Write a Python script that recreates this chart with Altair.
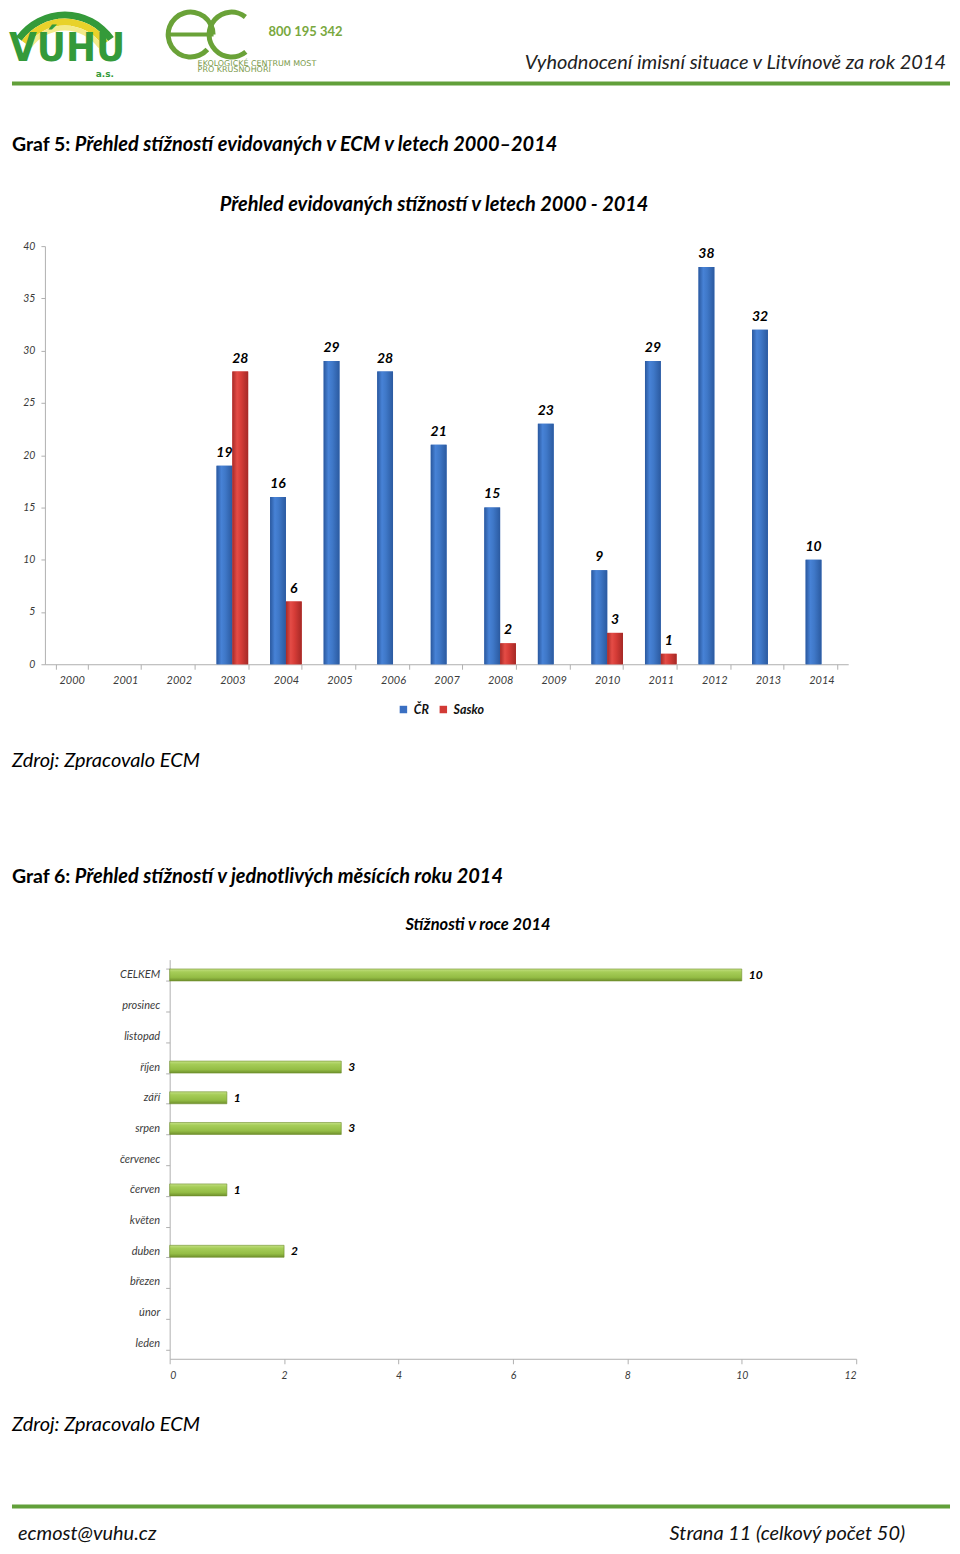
import altair as alt
import pandas as pd

FONT = "Lato"

# ---------------- texts ----------------
header_right = "Vyhodnocení imisní situace v Litvínově za rok 2014"
logo_vuhu = "VÚHU"
logo_vuhu_sub = "a.s."
logo_phone = "800 195 342"
logo_eco1 = "EKOLOGICKÉ CENTRUM MOST"
logo_eco2 = "PRO KRUŠNOHOŘÍ"
graf5_prefix = "Graf 5:"
graf5_text = "Přehled stížností evidovaných v ECM v letech 2000–2014"
chart1_title = "Přehled evidovaných stížností v letech 2000 - 2014"
source_text = "Zdroj: Zpracovalo ECM"
graf6_prefix = "Graf 6:"
graf6_text = "Přehled stížností v jednotlivých měsících roku 2014"
chart2_title = "Stížnosti  v roce 2014"
footer_left = "ecmost@vuhu.cz"
footer_right = "Strana 11 (celkový počet 50)"

# ---------------- chart 1 data ----------------
years = [str(y) for y in range(2000, 2015)]
series_names = ["ČR", "Sasko"]
cr_values = [None, None, None, 19, 16, 29, 28, 21, 15, 23, 9, 29, 38, 32, 10]
sasko_values = [None, None, None, 28, 6, None, None, None, 2, None, 3, 1, None, None, None]
y1_ticks = [0, 5, 10, 15, 20, 25, 30, 35, 40]

# ---------------- chart 2 data ----------------
months = ["CELKEM", "prosinec", "listopad", "říjen", "září", "srpen", "červenec",
          "červen", "květen", "duben", "březen", "únor", "leden"]
month_values = [10, None, None, 3, 1, 3, None, 1, None, 2, None, None, None]
x2_ticks = [0, 2, 4, 6, 8, 10, 12]

# ---------------- colours ----------------
GREEN_LINE = "#62a03a"
LOGO_GREEN = "#349a3a"
EC_GREEN = "#6aa238"
BLUE = "#3a6fc2"
RED = "#d23a36"
AXIS_GREY = "#b0b0b0"
LABEL_GREY = "#3a3a3a"

rows1 = []
for y, v in zip(years, cr_values):
    if v is not None:
        rows1.append({"year": y, "series": series_names[0], "value": v})
for y, v in zip(years, sasko_values):
    if v is not None:
        rows1.append({"year": y, "series": series_names[1], "value": v})
df1 = pd.DataFrame(rows1)

df2 = pd.DataFrame([{"month": m, "value": v} for m, v in zip(months, month_values) if v is not None])

dummy = pd.DataFrame({"d": [0]})
W = 944


def txt(s, x, y, size, weight="normal", style="normal", align="left", color="#000000",
        font=FONT, baseline="alphabetic"):
    return alt.Chart(dummy).mark_text(
        text=s, fontSize=size, fontWeight=weight, fontStyle=style, align=align,
        baseline=baseline, color=color, font=font
    ).encode(x=alt.value(x), y=alt.value(y))


def hline(x1, x2, y, color, width):
    return alt.Chart(dummy).mark_rule(color=color, strokeWidth=width).encode(
        x=alt.value(x1), x2=alt.value(x2), y=alt.value(y))


def arc(cx, cy, r1, r2, t1, t2, color):
    return alt.Chart(dummy).mark_arc(color=color, theta=t1, theta2=t2,
                                     radius=r2, radius2=r1).encode(
        x=alt.value(cx), y=alt.value(cy))


def vgrad(stops):
    return alt.Gradient(gradient="linear", x1=0, x2=0, y1=0, y2=1,
                        stops=[alt.GradientStop(color=c, offset=o) for o, c in stops])


def hgrad(stops):
    return alt.Gradient(gradient="linear", x1=0, x2=1, y1=0, y2=0,
                        stops=[alt.GradientStop(color=c, offset=o) for o, c in stops])


# ================= Row H: header (page y 8..245) =================
rowH = alt.layer(
    arc(57, 62, 53, 60, 5.33, 7.24, LOGO_GREEN),
    arc(57, 62, 46, 53, 5.33, 7.24, "#e8d22a"),
    arc(57, 62, 41, 46, 5.33, 7.24, "#f3ea8a"),
    txt(logo_vuhu, 1, 51, 40, weight="bold", color=LOGO_GREEN, font="DejaVu Sans Condensed"),
    txt(logo_vuhu_sub, 88, 68, 9, weight="bold", color=LOGO_GREEN, font="DejaVu Sans"),
    # "ec" logo drawn as two open rings
    arc(183, 25, 20, 25, 2.3, 7.85, EC_GREEN),
    hline(160, 206, 25, EC_GREEN, 4),
    arc(224, 25, 20, 25, 2.45, 6.95, EC_GREEN),
    txt(logo_phone, 261, 26, 13, weight="bold", color="#79a83e"),
    txt(logo_eco1, 190, 56, 8, color="#7a9a4a", font="DejaVu Sans"),
    txt(logo_eco2, 190, 63, 8, color="#7a9a4a", font="DejaVu Sans"),
    txt(header_right, 940, 59, 20, style="italic", align="right", color="#222222"),
    hline(4, 944, 74, GREEN_LINE, 4),
    txt(graf5_prefix, 4, 142, 19.5, weight="bold"),
    txt(graf5_text, 67, 142, 20, weight="bold", style="italic"),
    txt(chart1_title, 427, 202, 20, weight="bold", style="italic", align="center"),
).properties(width=W, height=237)

# ================= Row C1: chart 1 plot (page y 245..664) =================
x1 = alt.X("year:N", scale=alt.Scale(domain=years, range=[37, 842],
                                      paddingInner=0.41, paddingOuter=0.205),
           axis=alt.Axis(title=None, labelAngle=0, tickBand="extent", tickSize=5,
                         tickColor=AXIS_GREY, domainColor=AXIS_GREY, labelFontSize=11,
                         labelFontStyle="italic", labelColor=LABEL_GREY, labelPadding=5))
xo1 = alt.XOffset("series:N", scale=alt.Scale(domain=series_names, paddingInner=0, paddingOuter=0))
y1 = alt.Y("value:Q", scale=alt.Scale(domain=[0, 40], nice=False),
           axis=alt.Axis(title=None, values=y1_ticks, grid=False, offset=-37, tickSize=4,
                         tickColor=AXIS_GREY, domainColor=AXIS_GREY, labelFontSize=10.5,
                         labelFontStyle="italic", labelColor=LABEL_GREY, labelPadding=6))

base1 = alt.Chart(df1)
bars1 = base1.mark_bar().encode(
    x=x1, xOffset=xo1, y=y1,
    color=alt.Color("series:N", scale=alt.Scale(domain=series_names, range=[BLUE, RED]),
                    legend=alt.Legend(title=None, orient="none", legendX=390, legendY=458,
                                      direction="horizontal", symbolType="square",
                                      symbolSize=56, symbolStrokeWidth=0, labelFontSize=12.5,
                                      labelFontWeight="bold", labelFontStyle="italic",
                                      labelColor="#111111", columnPadding=8, labelOffset=4)),
)
blue_grad = hgrad([(0, "#2a589e"), (0.3, "#4782d6"), (0.55, "#3f78c8"), (1, "#2b5aa0")])
red_grad = hgrad([(0, "#a82a27"), (0.3, "#e44c46"), (0.55, "#d63c37"), (1, "#a52926")])
gb1 = base1.transform_filter(alt.datum.series == series_names[0]).mark_bar(color=blue_grad).encode(
    x=x1, xOffset=xo1, y=y1)
gb2 = base1.transform_filter(alt.datum.series == series_names[1]).mark_bar(color=red_grad).encode(
    x=x1, xOffset=xo1, y=y1)
labels1 = base1.mark_text(fontSize=14, fontWeight="bold", fontStyle="italic", baseline="bottom",
                          dy=-6, color="#000000").encode(x=x1, xOffset=xo1, y=y1, text="value:Q")

rowC1 = alt.layer(bars1, gb1, gb2, labels1).properties(width=W, height=419)

# ================= Row M: middle texts (page y 664..960) =================
rowM = alt.layer(
    txt(source_text, 4, 103, 20, style="italic"),
    txt(graf6_prefix, 4, 219, 19.5, weight="bold"),
    txt(graf6_text, 67, 219, 20, weight="bold", style="italic"),
    txt(chart2_title, 471, 266, 16.5, weight="bold", style="italic", align="center"),
).properties(width=W, height=296)

# ================= Row C2: chart 2 plot (page y 960..1360) =================
x2 = alt.X("value:Q", scale=alt.Scale(domain=[0, 12], range=[162, 850], nice=False),
           axis=alt.Axis(title=None, values=x2_ticks, grid=False, tickSize=5,
                         tickColor=AXIS_GREY, domainColor=AXIS_GREY, labelFontSize=10.5,
                         labelFontStyle="italic", labelColor=LABEL_GREY, labelPadding=7))
y2 = alt.Y("month:N", scale=alt.Scale(domain=months, paddingInner=0.61, paddingOuter=0.305),
           axis=alt.Axis(title=None, offset=-162, tickBand="extent", tickSize=4,
                         tickColor=AXIS_GREY, domainColor=AXIS_GREY, labelFontSize=11,
                         labelFontStyle="italic", labelColor=LABEL_GREY, labelPadding=6))
green_grad = vgrad([(0, "#c4e084"), (0.25, "#a6cd58"), (0.7, "#94bd45"), (1, "#6f902c")])
base2 = alt.Chart(df2)
bars2 = base2.mark_bar(color=green_grad, stroke="#6f8f2c", strokeWidth=0.6).encode(x=x2, y=y2)
labels2 = base2.mark_text(align="left", dx=7, fontSize=12, fontWeight="bold", fontStyle="italic",
                          color="#000000").encode(x=x2, y=y2, text="value:Q")
rowC2 = alt.layer(bars2, labels2).properties(width=W, height=400)

# ================= Row F: footer (page y 1360..1546) =================
rowF = alt.layer(
    txt(source_text, 4, 72, 20, style="italic"),
    hline(4, 944, 148, GREEN_LINE, 4),
    txt(footer_left, 10, 182, 20, style="italic", color="#111111"),
    txt(footer_right, 899, 182, 20, style="italic", align="right", color="#111111"),
).properties(width=W, height=186)

chart = alt.vconcat(rowH, rowC1, rowM, rowC2, rowF, spacing=0, bounds="flush").properties(
    padding=0
).configure(font=FONT).configure_view(stroke=None).resolve_scale(
    x="independent", y="independent", color="independent")

chart.save("out.html", embed_options={"renderer": "svg", "actions": False})
